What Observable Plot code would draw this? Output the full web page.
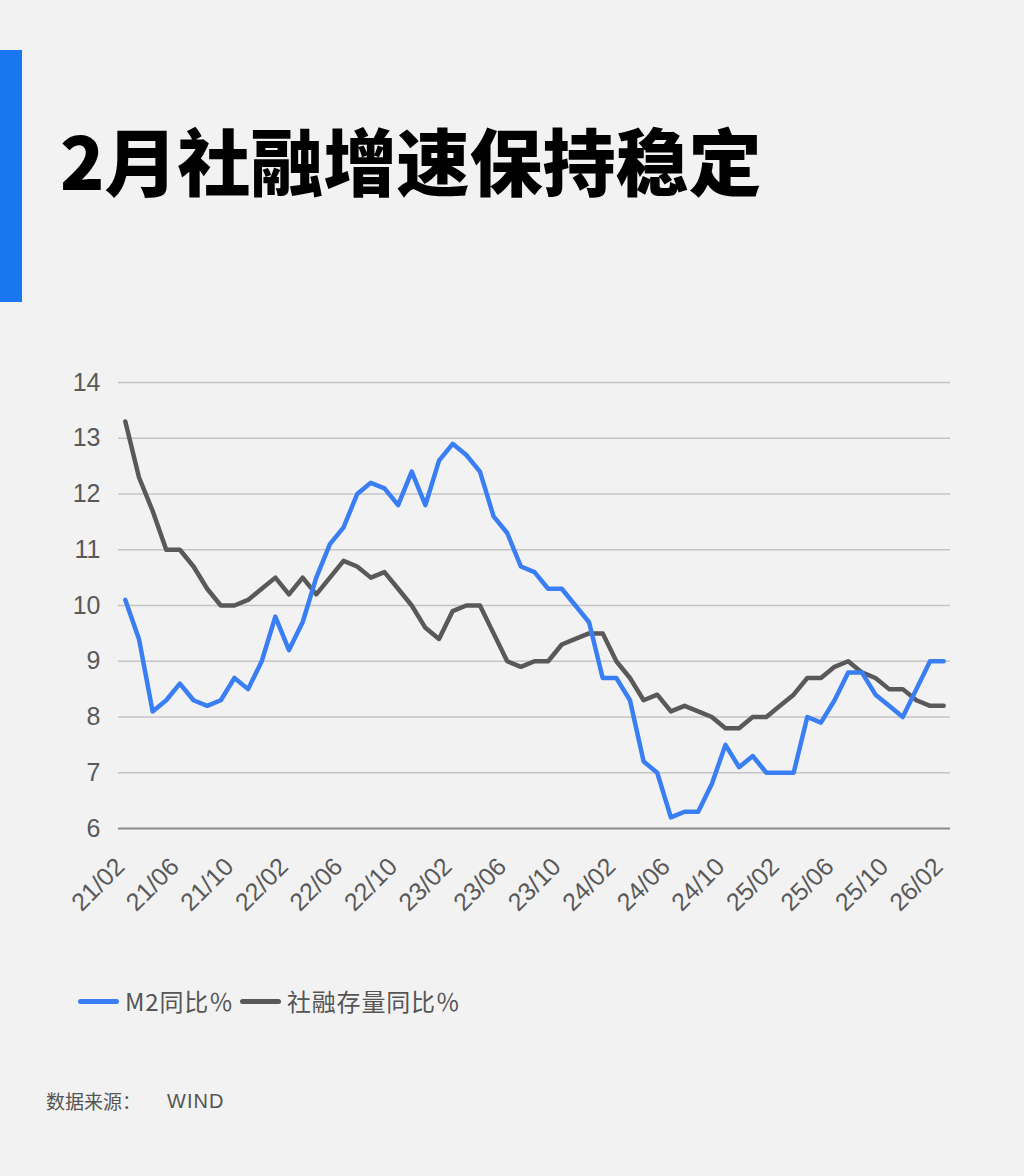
<!DOCTYPE html>
<html>
<head>
<meta charset="utf-8">
<script src="https://cdn.jsdelivr.net/npm/d3@7"></script>
<script src="https://cdn.jsdelivr.net/npm/@observablehq/plot@0.6"></script>
<style>
  html, body { margin: 0; padding: 0; background: #f2f2f2; }
  #page { position: relative; width: 1024px; height: 1176px; background: #f2f2f2; overflow: hidden;
    font-family: "Liberation Sans", "Noto Sans CJK SC", sans-serif; }
  #bar { position: absolute; left: 0; top: 50px; width: 22px; height: 252px; background: #1877f0; }
  #title { position: absolute; left: 60px; top: 122px; font-family: "Noto Sans CJK SC", sans-serif;
    font-weight: 900; font-size: 73px; line-height: 1; color: #000; white-space: nowrap; }
  #chart { position: absolute; left: 0; top: 340px; }
  .sw { position: absolute; width: 41px; height: 5px; border-radius: 3px; top: 998.5px; }
  .lg { position: absolute; top: 985px; line-height: 32px; font-size: 24px; color: #555; letter-spacing: 0.8px;
    font-family: "Noto Sans CJK SC", sans-serif; white-space: nowrap; }
  .src { position: absolute; top: 1088px; line-height: 26px; font-size: 19px; color: #555;
    font-family: "Noto Sans CJK SC", sans-serif; white-space: nowrap; }
</style>
</head>
<body>
<div id="page">
  <div id="bar"></div>
  <div id="title">2月社融增速保持稳定</div>
  <div id="chart"></div>
  <div class="sw" style="left:78px;background:#3a7ef4"></div>
  <div class="lg" style="left:125px">M2同比％</div>
  <div class="sw" style="left:240px;background:#595959"></div>
  <div class="lg" style="left:287px">社融存量同比％</div>
  <div class="src" style="left:46px">数据来源：</div>
  <div class="src" style="left:167px;font-family:'Liberation Sans',sans-serif;font-size:20px;letter-spacing:1px">WIND</div>
</div>
<script>
// Monthly data, 2021/02 .. 2026/02
const m2 = [10.1,9.4,8.1,8.3,8.6,8.3,8.2,8.3,8.7,8.5,
            9.0,9.8,9.2,9.7,10.5,11.1,11.4,12.0,12.2,12.1,
            11.8,12.4,11.8,12.6,12.9,12.7,12.4,11.6,11.3,10.7,
            10.6,10.3,10.3,10.0,9.7,8.7,8.7,8.3,7.2,7.0,
            6.2,6.3,6.3,6.8,7.5,7.1,7.3,7.0,7.0,7.0,
            8.0,7.9,8.3,8.8,8.8,8.4,8.2,8.0,8.5,9.0,
            9.0];
const tsf = [13.3,12.3,11.7,11.0,11.0,10.7,10.3,10.0,10.0,10.1,
             10.3,10.5,10.2,10.5,10.2,10.5,10.8,10.7,10.5,10.6,
             10.3,10.0,9.6,9.4,9.9,10.0,10.0,9.5,9.0,8.9,
             9.0,9.0,9.3,9.4,9.5,9.5,9.0,8.7,8.3,8.4,
             8.1,8.2,8.1,8.0,7.8,7.8,8.0,8.0,8.2,8.4,
             8.7,8.7,8.9,9.0,8.8,8.7,8.5,8.5,8.3,8.2,
             8.2];
const xTickLabels = ["21/02","21/06","21/10","22/02","22/06","22/10","23/02","23/06",
                     "23/10","24/02","24/06","24/10","25/02","25/06","25/10","26/02"];
const yTicks = [6,7,8,9,10,11,12,13,14];
const seriesNames = ["M2同比％","社融存量同比％"];

const xTickIdx = xTickLabels.map((_, k) => k * 4);
const rows = (arr, name) => arr.map((v, i) => ({i, v, name}));

const chart = Plot.plot({
  width: 1024,
  height: 600,
  marginTop: 42,
  marginBottom: 112,
  marginLeft: 118,
  marginRight: 74,
  x: {domain: [-0.5, m2.length - 0.5]},
  y: {domain: [6, 14]},
  style: {background: "transparent", fontFamily: "'Liberation Sans', 'Noto Sans', sans-serif", fontSize: "25px", color: "#595959", overflow: "visible"},
  marks: [
    Plot.ruleY(yTicks.filter(d => d > 6), {stroke: "#c4c4c4", strokeWidth: 1.6}),
    Plot.ruleY([6], {stroke: "#8a8a8a", strokeWidth: 2.2}),
    Plot.axisY({ticks: yTicks, tickSize: 0, tickPadding: 18, label: null, fontSize: 25}),
    Plot.axisX({ticks: xTickIdx, tickFormat: i => xTickLabels[i / 4], tickSize: 0, tickPadding: 34, dx: -5, tickRotate: -45, label: null, fontSize: 25}),
    Plot.line(rows(tsf, seriesNames[1]), {x: "i", y: "v", stroke: "#595959", strokeWidth: 4.5}),
    Plot.line(rows(m2, seriesNames[0]), {x: "i", y: "v", stroke: "#3a7ef4", strokeWidth: 4.5})
  ]
});
document.getElementById("chart").appendChild(chart);
</script>
</body>
</html>
